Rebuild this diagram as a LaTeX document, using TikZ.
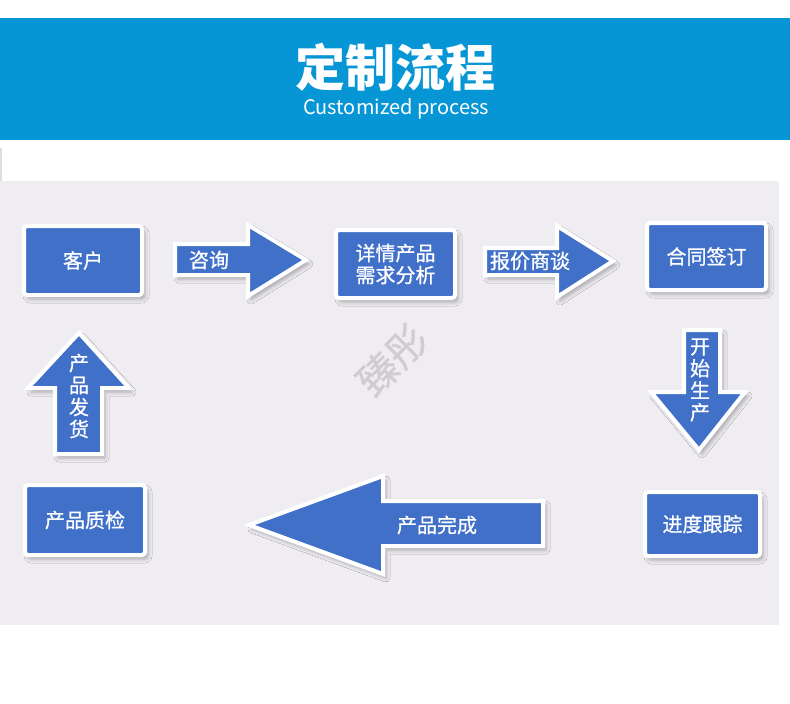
\documentclass[tikz,border=0pt]{standalone}
\usepackage{fontspec}
\setmainfont{Noto Sans CJK SC}
\newfontfamily\cjk{Noto Sans CJK SC}
\newfontfamily\cjkm[FakeBold=0.8]{Noto Sans CJK SC}
\usetikzlibrary{shadows.blur}
\definecolor{banner}{HTML}{0796D5}
\definecolor{panel}{HTML}{EFEDF1}
\definecolor{boxblue}{HTML}{4170C9}
\definecolor{wmark}{HTML}{CFCDD3}
\tikzset{
  stepbox/.style={rectangle, draw=white, line width=4pt, fill=boxblue, rounded corners=3pt,
    text=white, font=\cjkm\fontsize{20}{22}\selectfont, align=center, inner sep=0pt,
    blur shadow={shadow xshift=3pt, shadow yshift=-4pt, shadow blur radius=4pt, shadow opacity=30}},
  blockarrow/.style={draw=white, line width=4pt, fill=boxblue, line join=miter,
    blur shadow={shadow xshift=3pt, shadow yshift=-4pt, shadow blur radius=4pt, shadow opacity=30}},
  lbl/.style={text=white, font=\cjkm\fontsize{20}{22}\selectfont, align=center, inner sep=0pt},
}
\begin{document}
\begin{tikzpicture}[x=1pt,y=-1pt]
\useasboundingbox (0,0) rectangle (790,704);
\fill[white] (0,0) rectangle (790,704);
% banner
\fill[banner] (0,18) rectangle (790,140);
\node[text=white, font=\cjk\bfseries\fontsize{50}{54}\selectfont] (title) at (395,67) {定制流程};
\node[text=white, font=\cjk\fontsize{20}{22}\selectfont] (subtitle) at (396,109) {Customized process};
% panel
\fill[panel] (0,181) rectangle (779,625);
\fill[panel!85!gray] (0,148) rectangle (1.5,181);
% watermark
\node[text=wmark, font=\cjkm\fontsize{40}{44}\selectfont, rotate=45] (wm) at (392,360) {臻彤};
% boxes
\node[stepbox, minimum width=118pt, minimum height=69pt] (kehu) at (83,260.5) {客户};
\node[stepbox, minimum width=119pt, minimum height=68pt] (xq) at (395.5,264) {详情产品\\需求分析};
\node[stepbox, minimum width=119pt, minimum height=67pt] (ht) at (706.5,256.5) {合同签订};
\node[stepbox, minimum width=115pt, minimum height=64pt] (jd) at (702.5,524) {进度跟踪};
\node[stepbox, minimum width=120pt, minimum height=70pt] (zj) at (85,520) {产品质检};
% block arrows
\draw[blockarrow] (175,244) -- (248,244) -- (248,225) -- (306,260) -- (248,296) -- (248,275) -- (175,275) -- cycle;
\draw[blockarrow] (485,248) -- (557,248) -- (557,226) -- (613,261) -- (557,297) -- (557,275) -- (485,275) -- cycle;
\draw[blockarrow] (684,330) -- (720,330) -- (720,392) -- (745,392) -- (699,450) -- (651,392) -- (684,392) -- cycle;
\draw[blockarrow] (55,454) -- (55,388) -- (28,388) -- (79,333) -- (129,388) -- (102,388) -- (102,454) -- cycle;
\draw[blockarrow] (543,501) -- (383,501) -- (383,476) -- (249,525) -- (383,574) -- (383,546) -- (543,546) -- cycle;
% arrow labels
\node[lbl] (zx) at (209,260) {咨询};
\node[lbl] (bj) at (530,261) {报价商谈};
\node[lbl] (wc) at (437,525) {产品完成};
\node[lbl] (fh) at (79,396) {产\\品\\发\\货};
\node[lbl] (sc) at (700,380) {开\\始\\生\\产};
\end{tikzpicture}
\end{document}
